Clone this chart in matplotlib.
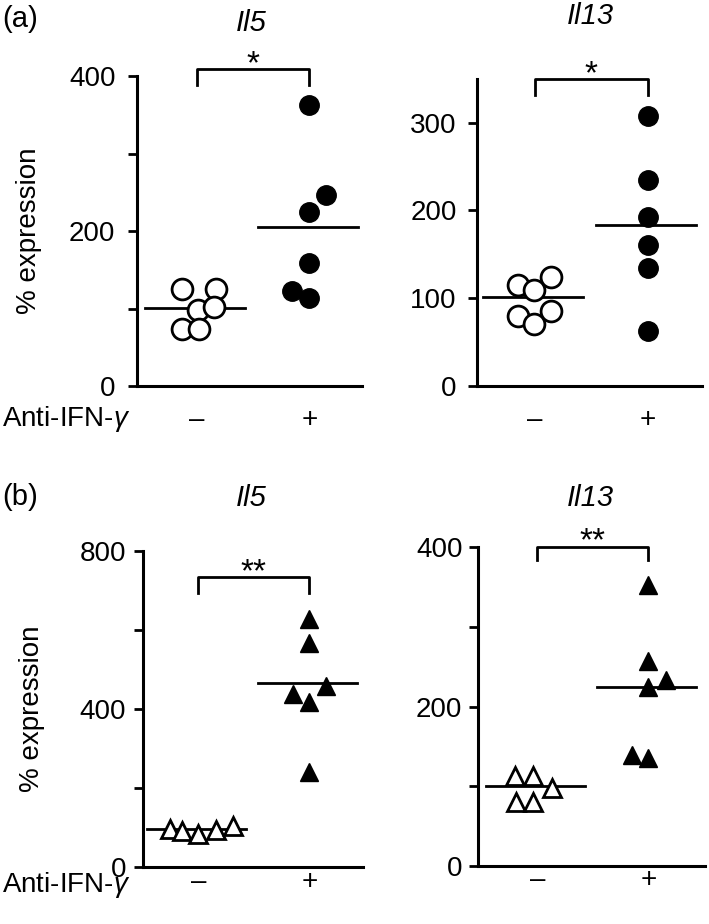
import matplotlib
matplotlib.use('Agg')
import matplotlib.pyplot as plt
from matplotlib.ticker import MultipleLocator

plt.rcParams['font.family'] = ['Liberation Sans', 'DejaVu Sans']
plt.rcParams['mathtext.fontset'] = 'custom'
plt.rcParams['mathtext.rm'] = 'Liberation Sans'
plt.rcParams['mathtext.it'] = 'Liberation Sans:italic'

W, H = 709, 924
FS = 20

GROUPS = ['\u2013', '+']
TREAT_LABEL = 'Anti-IFN-$\\gamma$'
YLABEL = '% expression'

# (a) Il5
a_il5_ctrl = [125, 125, 98, 102, 73, 73]
a_il5_ctrl_dx = [-0.13, 0.17, 0.01, 0.15, -0.13, 0.02]
a_il5_anti = [362, 247, 224, 159, 122, 113]
a_il5_anti_dx = [0, 0.15, 0, 0, -0.15, 0]
a_il5_means = [101, 205]

# (a) Il13
a_il13_ctrl = [115, 109, 124, 80, 71, 85]
a_il13_ctrl_dx = [-0.15, -0.01, 0.14, -0.15, -0.01, 0.14]
a_il13_anti = [307, 235, 193, 161, 134, 63]
a_il13_anti_dx = [0, 0, 0, 0, 0, 0]
a_il13_means = [101, 183]

# (b) Il5
b_il5_ctrl = [98, 92, 85, 94, 105]
b_il5_ctrl_dx = [-0.255, -0.15, 0, 0.16, 0.315]
b_il5_anti = [627, 566, 459, 437, 417, 242]
b_il5_anti_dx = [0, 0, 0.15, -0.15, 0, 0]
b_il5_means = [98, 465]

# (b) Il13
b_il13_ctrl = [113, 113, 98, 80, 80]
b_il13_ctrl_dx = [-0.2, -0.035, 0.13, -0.19, -0.035]
b_il13_anti = [353, 257, 234, 225, 139, 136]
b_il13_anti_dx = [0, 0, 0.16, 0, -0.15, 0]
b_il13_means = [100, 225]

# significance brackets: (bar height, leg end, stars)
a_il5_sig = (409, 389, '*')
a_il13_sig = (350, 332, '*')
b_il5_sig = (734, 694, '**')
b_il13_sig = (401, 384, '**')


def px_rect(l, t, r, b):
    return [l / W, 1 - b / H, (r - l) / W, (b - t) / H]


def panel(fig, rect, xlim, ylim, major, minor, ctrl, ctrl_dx, anti, anti_dx,
          means, sig, marker, ypad, xpad, ylabel=None, ylabel_x=None):
    ax = fig.add_axes(px_rect(*rect))
    ax.set_xlim(*xlim)
    ax.set_ylim(*ylim)
    for s in ['top', 'right']:
        ax.spines[s].set_visible(False)
    for s in ['left', 'bottom']:
        ax.spines[s].set_linewidth(2.2)

    big = 15 if marker == 'o' else 13.5
    ax.plot([0 + d for d in ctrl_dx], ctrl, linestyle='none', marker=marker,
            ms=big, mfc='white', mec='black', mew=2, zorder=3)
    ax.plot([1 + d for d in anti_dx], anti, linestyle='none', marker=marker,
            ms=big - 1, mfc='black', mec='black', mew=1, zorder=3)
    for g, m in enumerate(means):
        ax.plot([g - 0.46, g + 0.43], [m, m], color='black', lw=2, zorder=2)

    top, leg, stars = sig
    ax.plot([0, 0, 1, 1], [leg, top, top, leg], color='black', lw=2,
            clip_on=False)
    ax.annotate(stars, xy=(0.5, top), xytext=(0, -3), textcoords='offset points',
                ha='center', va='baseline', fontsize=24, annotation_clip=False)

    ax.yaxis.set_major_locator(MultipleLocator(major))
    ax.yaxis.set_minor_locator(MultipleLocator(minor))
    ax.tick_params(axis='y', which='both', direction='out', length=6.5,
                   width=2, labelsize=FS, pad=ypad)
    ax.set_xticks([0, 1], GROUPS)
    ax.tick_params(axis='x', length=0, labelsize=FS, pad=xpad)

    if ylabel:
        ax.set_ylabel(ylabel, fontsize=FS)
        ax.yaxis.set_label_coords(ylabel_x, 0.5)
    return ax


fig = plt.figure(figsize=(W / 100, H / 100), dpi=100)

panel(fig, (137, 76, 362, 386), (-0.534, 1.469), (0, 400), 200, 100,
      a_il5_ctrl, a_il5_ctrl_dx, a_il5_anti, a_il5_anti_dx, a_il5_means,
      a_il5_sig, 'o', 9, 15, YLABEL, -0.42)
panel(fig, (477, 78.7, 702, 386), (-0.515, 1.482), (0, 350), 100, 100,
      a_il13_ctrl, a_il13_ctrl_dx, a_il13_anti, a_il13_anti_dx, a_il13_means,
      a_il13_sig, 'o', 8, 15)
panel(fig, (143.3, 550.7, 363, 867.3), (-0.495, 1.484), (0, 800), 400, 200,
      b_il5_ctrl, b_il5_ctrl_dx, b_il5_anti, b_il5_anti_dx, b_il5_means,
      b_il5_sig, '^', 6, 1, YLABEL, -0.447)
panel(fig, (477.7, 547.3, 705, 866), (-0.537, 1.511), (0, 400), 200, 100,
      b_il13_ctrl, b_il13_ctrl_dx, b_il13_anti, b_il13_anti_dx, b_il13_means,
      b_il13_sig, '^', 4.5, 1)


def ftext(x, y, s, **kw):
    fig.text(x / W, 1 - y / H, s, **kw)


ftext(2, 19, '(a)', fontsize=21, va='center', ha='left')
ftext(2, 497, '(b)', fontsize=21, va='center', ha='left')
ftext(251, 23, 'Il5', fontsize=21, style='italic', va='center', ha='center')
ftext(590, 16.5, 'Il13', fontsize=21, style='italic', va='center', ha='center')
ftext(251, 498, 'Il5', fontsize=21, style='italic', va='center', ha='center')
ftext(590, 498, 'Il13', fontsize=21, style='italic', va='center', ha='center')
ftext(2, 426.5, TREAT_LABEL, fontsize=FS, va='baseline', ha='left')
ftext(2, 892, TREAT_LABEL, fontsize=FS, va='baseline', ha='left')

fig.savefig('out.png', dpi=100)
